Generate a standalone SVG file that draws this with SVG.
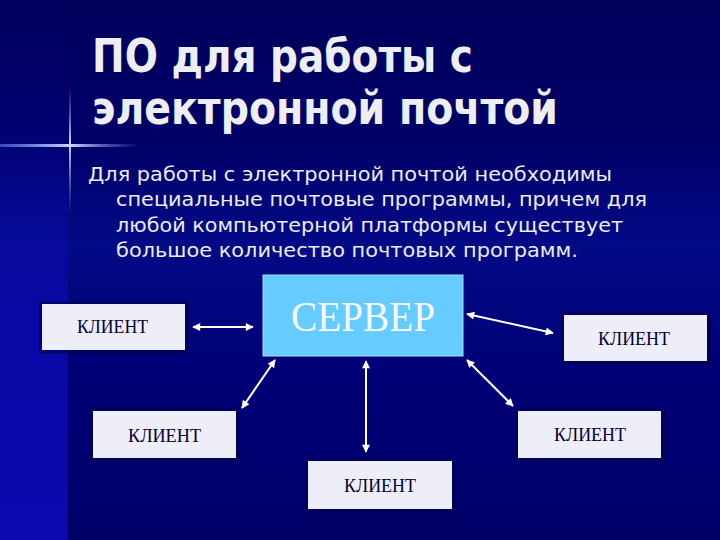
<svg xmlns="http://www.w3.org/2000/svg" width="720" height="540" viewBox="0 0 720 540">
<style>
.title{font-family:"DejaVu Sans","Liberation Sans",sans-serif;font-weight:bold;font-size:46px;fill:#eeeef2}
.body{font-family:"DejaVu Sans","Liberation Sans",sans-serif;font-size:19px;fill:#ececf4}
.client rect.box{fill:#eeeef8}
.client rect.shadow{fill:#000048;opacity:0.55}
.client text{font-family:"Liberation Serif","Times New Roman",serif;font-size:18px;fill:#000033;text-anchor:middle}
.conn line{stroke:#ffffff;stroke-width:2}
</style>
<defs>
<linearGradient id="bg" x1="0" y1="0" x2="0" y2="1">
<stop offset="0" stop-color="#00005c"/>
<stop offset="0.27" stop-color="#000068"/>
<stop offset="0.45" stop-color="#030a86"/>
<stop offset="0.7" stop-color="#000076"/>
<stop offset="1" stop-color="#00006a"/>
</linearGradient>
<linearGradient id="strip" x1="0" y1="0" x2="0" y2="1">
<stop offset="0" stop-color="#0a0ab0" stop-opacity="0"/>
<stop offset="0.3" stop-color="#0a0ab0" stop-opacity="0.2"/>
<stop offset="0.6" stop-color="#0a0ab0" stop-opacity="0.8"/>
<stop offset="1" stop-color="#0a0ab0" stop-opacity="1"/>
</linearGradient>
<linearGradient id="hline" x1="0" y1="0" x2="1" y2="0">
<stop offset="0" stop-color="#6f8fff" stop-opacity="0.5"/>
<stop offset="0.5" stop-color="#c8d8ff" stop-opacity="1"/>
<stop offset="1" stop-color="#6f8fff" stop-opacity="0"/>
</linearGradient>
<linearGradient id="vline" x1="0" y1="0" x2="0" y2="1">
<stop offset="0" stop-color="#6f8fff" stop-opacity="0"/>
<stop offset="0.45" stop-color="#c8d8ff" stop-opacity="1"/>
<stop offset="1" stop-color="#6f8fff" stop-opacity="0"/>
</linearGradient>
<marker id="ah" viewBox="0 0 10 10" refX="9" refY="5" markerWidth="9" markerHeight="8" markerUnits="userSpaceOnUse" orient="auto-start-reverse">
<path d="M0,0 L10,5 L0,10 z" fill="#ffffff"/>
</marker>
</defs>

<rect width="720" height="540" fill="url(#bg)"/>
<rect x="0" y="0" width="68" height="540" fill="url(#strip)"/>
<rect x="0" y="144" width="140" height="3" fill="url(#hline)"/>
<rect x="69" y="85" width="2" height="130" fill="url(#vline)"/>

<g id="title">
<text class="title" x="92" y="72" textLength="381" lengthAdjust="spacingAndGlyphs">ПО для работы с</text>
<text class="title" x="92" y="124" textLength="466" lengthAdjust="spacingAndGlyphs">электронной почтой</text>
</g>

<g id="body-text">
<text class="body" x="88" y="181" textLength="524" lengthAdjust="spacingAndGlyphs">Для работы с электронной почтой необходимы</text>
<text class="body" x="116" y="206" textLength="531" lengthAdjust="spacingAndGlyphs">специальные почтовые программы, причем для</text>
<text class="body" x="116" y="232" textLength="507" lengthAdjust="spacingAndGlyphs">любой компьютерной платформы существует</text>
<text class="body" x="116" y="257" textLength="462" lengthAdjust="spacingAndGlyphs">большое количество почтовых программ.</text>
</g>

<g id="connectors" class="conn">
<line x1="193" y1="327" x2="253" y2="327" marker-start="url(#ah)" marker-end="url(#ah)"/>
<line x1="467" y1="314" x2="553" y2="333" marker-start="url(#ah)" marker-end="url(#ah)"/>
<line x1="242" y1="408" x2="275" y2="360" marker-start="url(#ah)" marker-end="url(#ah)"/>
<line x1="366" y1="361" x2="366" y2="452" marker-start="url(#ah)" marker-end="url(#ah)"/>
<line x1="467" y1="360" x2="513" y2="406" marker-start="url(#ah)" marker-end="url(#ah)"/>
</g>

<g id="server">
<rect x="263" y="275" width="200" height="81" fill="#66ccff" stroke="#a8e0ff" stroke-width="1"/>
<text x="363" y="331" font-family="Liberation Serif, Times New Roman, serif" font-size="42" fill="#f6f9ff" text-anchor="middle" textLength="144" lengthAdjust="spacingAndGlyphs">СЕРВЕР</text>
</g>

<g id="client-left" class="client">
<rect class="shadow" x="39" y="301" width="150" height="53"/>
<rect class="box" x="42" y="304" width="143" height="46"/>
<text x="112.5" y="333" textLength="71" lengthAdjust="spacingAndGlyphs">КЛИЕНТ</text>
</g>

<g id="client-right" class="client">
<rect class="shadow" x="561" y="312" width="150" height="53"/>
<rect class="box" x="564" y="315" width="143" height="46"/>
<text x="634" y="345" textLength="72" lengthAdjust="spacingAndGlyphs">КЛИЕНТ</text>
</g>

<g id="client-lower-left" class="client">
<rect class="shadow" x="90" y="408" width="150" height="54"/>
<rect class="box" x="93" y="411" width="143" height="47"/>
<text x="164.5" y="442" textLength="73" lengthAdjust="spacingAndGlyphs">КЛИЕНТ</text>
</g>

<g id="client-lower-right" class="client">
<rect class="shadow" x="515" y="408" width="150" height="54"/>
<rect class="box" x="518" y="411" width="143" height="47"/>
<text x="590" y="441" textLength="72" lengthAdjust="spacingAndGlyphs">КЛИЕНТ</text>
</g>

<g id="client-bottom" class="client">
<rect class="shadow" x="305" y="458" width="151" height="55"/>
<rect class="box" x="308" y="461" width="144" height="48"/>
<text x="380" y="492" textLength="72" lengthAdjust="spacingAndGlyphs">КЛИЕНТ</text>
</g>
</svg>
